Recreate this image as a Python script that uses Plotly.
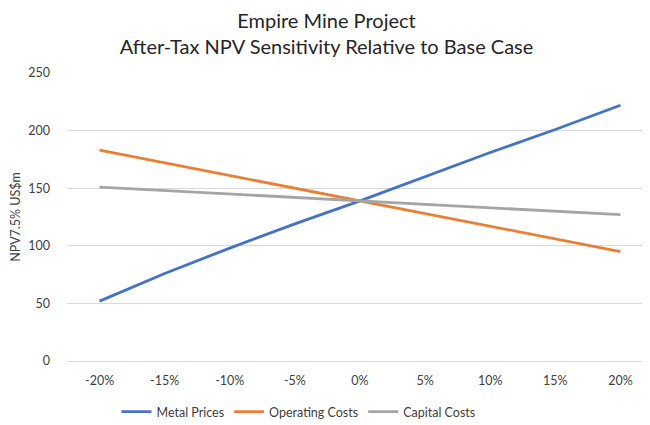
import plotly.graph_objects as go

categories = ["-20%", "-15%", "-10%", "-5%", "0%", "5%", "10%", "15%", "20%"]
metal_prices = [52, 76, 98, 119, 139, 160, 181, 201, 222]
operating_costs = [183, 172, 161, 150, 139, 128, 117, 106, 95]
capital_costs = [151, 148, 145, 142, 139, 136, 133, 130, 127]

series = [
    ("Metal Prices", metal_prices, "#4472C4"),
    ("Operating Costs", operating_costs, "#ED7D31"),
    ("Capital Costs", capital_costs, "#A5A5A5"),
]

fig = go.Figure()
for name, vals, color in series:
    fig.add_trace(go.Scatter(x=categories, y=vals, mode="lines", name=name,
                             line=dict(color=color, width=2.8)))

font_family = "Lato, Calibri, Carlito, sans-serif"
fig.update_layout(
    width=650, height=425,
    paper_bgcolor="white", plot_bgcolor="white",
    margin=dict(l=59, r=5, t=65, b=72, autoexpand=False),
    title=dict(text="Empire Mine Project<br>After-Tax NPV Sensitivity Relative to Base Case",
               x=0.49, xanchor="center", yref="container", y=1 - 20 / 425, yanchor="middle",
               font=dict(family=font_family, size=20, color="#262626")),
    font=dict(family=font_family, size=12.5, color="#595959"),
    xaxis=dict(type="category", range=[-0.5, 8.5], showgrid=False, showline=False,
               automargin=False, ticks="", ticklabelstandoff=10,
               tickfont=dict(size=12.5, color="#404040")),
    yaxis=dict(range=[0, 250], dtick=50, showgrid=True, gridcolor="#D9D9D9", gridwidth=1,
               zeroline=True, zerolinecolor="#D9D9D9", zerolinewidth=1,
               automargin=False, ticks="", ticklabelstandoff=16,
               tickfont=dict(size=12.5, color="#404040"),
               title=dict(text="NPV7.5% US$m", standoff=12,
                          font=dict(size=12.5, color="#404040"))),
    legend=dict(orientation="h", x=0.395, xanchor="center", y=-0.125, yanchor="top",
                font=dict(size=12.5, color="#404040"), itemwidth=30),
    showlegend=True,
)

fig.write_html("out.html")
